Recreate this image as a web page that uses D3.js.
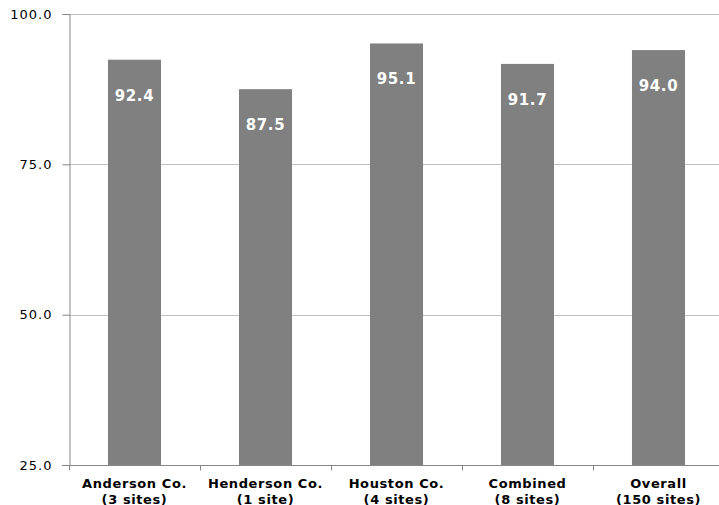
<!DOCTYPE html>
<html>
<head>
<meta charset="utf-8">
<script src="https://cdn.jsdelivr.net/npm/d3@7"></script>
<style>
  body { margin: 0; background: #fff; overflow: hidden; }
  text { font-family: "DejaVu Sans", Verdana, sans-serif; }
</style>
</head>
<body>
<svg id="chart" width="719" height="505"></svg>
<script>
var categories = ['Anderson Co.', 'Henderson Co.', 'Houston Co.', 'Combined', 'Overall'];
var subLabels = ['(3 sites)', '(1 site)', '(4 sites)', '(8 sites)', '(150 sites)'];
var values = [92.4, 87.5, 95.1, 91.7, 94.0];
var yTicks = [25, 50, 75, 100];

// plot runs a little past the right edge of the window, like the original
var margin = { top: 14, left: 69 },
    width = 655,
    height = 451;

var svg = d3.select('#chart')
    .append('g')
    .attr('transform', 'translate(' + margin.left + ',' + margin.top + ')');

var x = d3.scaleBand()
    .domain(categories)
    .range([0, width])
    .paddingInner(0.595)
    .paddingOuter(0.2975);

var y = d3.scaleLinear()
    .domain([25, 100])
    .range([height, 0]);

// gridlines
svg.selectAll('.grid')
    .data(yTicks.slice(1))
    .enter().append('line')
    .attr('x1', 0)
    .attr('x2', width)
    .attr('y1', function (d) { return Math.round(y(d)) + 0.5; })
    .attr('y2', function (d) { return Math.round(y(d)) + 0.5; })
    .attr('stroke', '#c0c0c0')
    .attr('stroke-width', 1);

// bars
svg.selectAll('.bar')
    .data(values)
    .enter().append('rect')
    .attr('x', function (d, i) { return x(categories[i]); })
    .attr('width', x.bandwidth())
    .attr('y', function (d) { return y(d); })
    .attr('height', function (d) { return height - y(d); })
    .attr('fill', '#808080');

// value labels
svg.selectAll('.val')
    .data(values)
    .enter().append('text')
    .attr('x', function (d, i) { return x(categories[i]) + x.bandwidth() / 2; })
    .attr('y', function (d) { return y(d) + 41; })
    .attr('text-anchor', 'middle')
    .attr('fill', '#fff')
    .attr('font-weight', 'bold')
    .attr('font-size', '15px')
    .attr('letter-spacing', '0.6px')
    .text(function (d) { return d.toFixed(1); });

// y axis
var yAxis = svg.append('g')
    .attr('transform', 'translate(0.5,0)')
    .call(d3.axisLeft(y).tickValues(yTicks).tickSize(7).tickPadding(10)
        .tickFormat(d3.format('.1f')));
yAxis.selectAll('line, path').attr('stroke', '#868686');
yAxis.selectAll('text').attr('font-size', '13px').attr('fill', '#000')
    .attr('letter-spacing', '1px')
    .style('font-family', '"DejaVu Sans", Verdana, sans-serif');

// x axis
var xAxis = svg.append('g')
    .attr('transform', 'translate(0,' + (Math.round(height) + 0.5) + ')');
xAxis.append('line')
    .attr('x1', -7).attr('x2', width)
    .attr('stroke', '#868686');
var bounds = d3.range(categories.length + 1).map(function (i) { return i * x.step(); });
xAxis.selectAll('.tick')
    .data(bounds)
    .enter().append('line')
    .attr('x1', function (d) { return Math.round(d) + 0.5; })
    .attr('x2', function (d) { return Math.round(d) + 0.5; })
    .attr('y1', 0).attr('y2', 5)
    .attr('stroke', '#868686');

var lbl = xAxis.selectAll('.lbl')
    .data(categories)
    .enter().append('text')
    .attr('text-anchor', 'middle')
    .attr('font-weight', 'bold')
    .attr('font-size', '13px')
    .attr('letter-spacing', '0.6px')
    .attr('fill', '#000')
    .attr('transform', function (d) { return 'translate(' + (x(d) + x.bandwidth() / 2) + ',0)'; });
lbl.append('tspan').attr('x', 0).attr('y', 22).text(function (d) { return d; });
lbl.append('tspan').attr('x', 0).attr('y', 38).text(function (d, i) { return subLabels[i]; });
</script>
</body>
</html>
